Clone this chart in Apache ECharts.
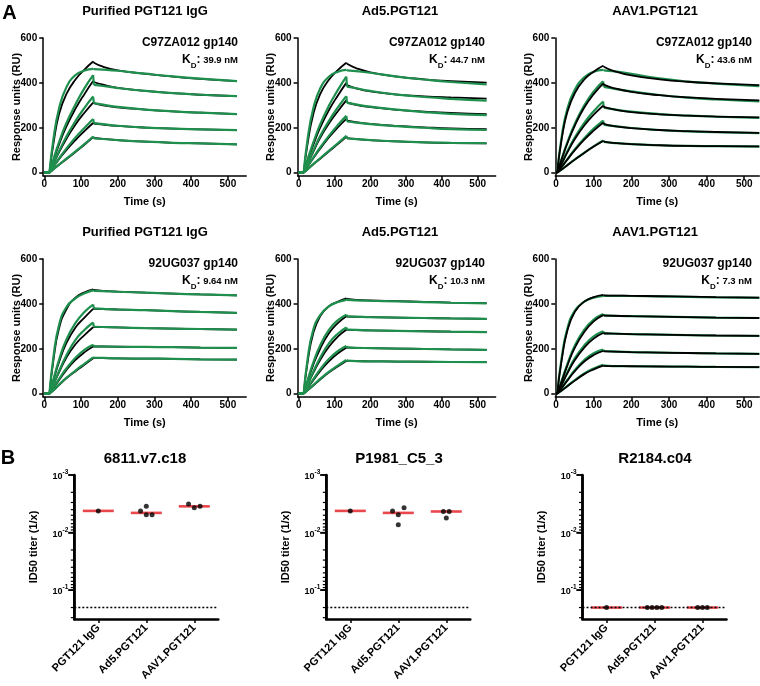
<!DOCTYPE html>
<html><head><meta charset="utf-8">
<script src="https://cdn.jsdelivr.net/npm/echarts@6/dist/echarts.min.js"></script>
<style>html,body{margin:0;padding:0;background:#fff}
#wrap{position:relative;width:760px;height:686px}
.layer{position:absolute;left:0;top:0;width:760px;height:686px}</style>
</head><body><div id="wrap"><div id="ca" class="layer"></div><div id="cb" class="layer"></div></div>
<script>
const FONT = '"Liberation Sans", Arial, Helvetica, sans-serif';

// ---------- Panel A data ----------
const panelTitles = ['Purified PGT121 IgG', 'Ad5.PGT121', 'AAV1.PGT121'];
const antigens = ['C97ZA012 gp140', '92UG037 gp140'];
const kdValues = ['39.9 nM', '44.7 nM', '43.6 nM', '9.64 nM', '10.3 nM', '7.3 nM'];
const timeTicks = [0, 100, 200, 300, 400, 500];
const ruTicks = [0, 200, 400, 600];
const timeA = [0, 14, 25, 40, 60, 85, 110, 133, 135, 160, 200, 275, 350, 425, 525];
const timeB = [0, 3, 15, 30, 50, 75, 100, 125, 127, 150, 200, 275, 350, 425, 540];

const a1Black = [
  [0,0,130,260,350,415,460,495,490,472,456,440,428,418,408],
  [0,0,55,125,205,285,352,408,404,392,378,364,354,347,341],
  [0,0,40,90,150,215,268,312,310,300,291,281,273,267,261],
  [0,0,25,60,100,145,186,221,219,214,208,201,196,193,189],
  [0,0,15,35,60,92,125,158,155,150,145,138,133,130,126]];
const a1Green = [
  [0,0,150,285,380,435,455,462,461,459,454,441,429,419,408],
  [0,0,60,135,220,305,378,435,391,386,377,364,354,347,341],
  [0,0,42,95,160,230,290,339,310,303,293,281,273,267,261],
  [0,0,27,63,107,157,200,239,221,216,209,201,196,193,189],
  [0,0,15,36,62,95,128,161,153,150,145,138,133,130,126]];
const a2Black = [
  [0,0,130,255,350,415,458,490,485,466,447,428,416,408,401],
  [0,0,55,120,200,280,345,400,390,376,362,348,340,335,330],
  [0,0,40,90,155,220,275,322,313,302,292,280,272,266,261],
  [0,0,27,63,107,158,203,240,232,225,217,208,202,197,194],
  [0,0,15,36,62,95,128,160,154,150,145,139,135,132,130]];
const a2Green = [
  [0,0,150,280,375,428,450,458,456,452,445,428,415,404,393],
  [0,0,60,130,215,300,370,428,383,376,364,348,337,329,321],
  [0,0,42,95,163,232,292,341,311,304,294,281,270,262,256],
  [0,0,28,65,112,165,213,253,228,223,216,207,200,194,190],
  [0,0,15,37,64,98,132,164,152,149,145,139,135,133,131]];
const a3Black = [
  [0,0,150,270,355,415,450,476,472,455,433,416,405,398,390],
  [0,0,60,130,210,290,350,397,392,378,360,345,335,329,322],
  [0,0,40,90,150,210,258,298,293,283,270,260,254,250,246],
  [0,0,25,58,100,147,187,222,217,208,198,190,185,181,177],
  [0,0,14,33,58,88,116,141,138,133,127,122,119,118,117]];
const a3Green = [
  [0,0,160,285,370,425,450,458,456,452,440,420,406,397,385],
  [0,0,62,135,218,300,362,407,382,375,362,346,334,326,318],
  [0,0,42,95,157,222,274,317,290,283,272,261,254,249,244],
  [0,0,26,60,104,153,196,232,214,208,199,190,184,180,176],
  [0,0,14,34,59,89,117,143,137,133,127,122,119,118,116]];
const a4Black = [
  [0,0,150,290,375,428,452,465,462,458,455,450,446,442,438],
  [0,0,60,140,225,295,340,378,378,377,375,372,368,364,360],
  [0,0,40,95,160,220,262,296,296,296,295,292,290,288,285],
  [0,0,25,60,105,150,185,210,210,210,209,208,207,205,204],
  [0,0,15,38,68,100,130,158,159,158,157,156,155,153,152]];
const a4Green = [
  [0,0,165,305,385,425,447,460,458,457,454,450,446,442,438],
  [0,0,65,150,240,315,365,397,380,378,375,372,368,364,360],
  [0,0,42,100,170,240,285,317,298,297,295,292,290,288,285],
  [0,0,27,65,112,160,196,218,211,210,209,208,207,205,204],
  [0,0,15,40,70,103,134,162,160,159,157,156,155,153,152]];
const a5Black = [
  [0,0,140,265,345,390,410,425,422,418,415,412,409,406,403],
  [0,0,55,125,200,270,315,345,343,342,341,339,337,335,333],
  [0,0,40,90,150,210,255,285,284,283,282,280,278,276,274],
  [0,0,25,58,100,145,180,205,205,204,203,201,199,197,195],
  [0,0,15,35,63,95,122,146,146,145,144,143,142,141,140]];
const a5Green = [
  [0,0,155,280,350,390,408,418,418,416,414,411,408,405,402],
  [0,0,60,135,215,285,328,352,344,343,341,339,337,335,333],
  [0,0,42,95,160,225,268,295,285,284,282,280,278,276,274],
  [0,0,27,62,108,155,190,212,206,204,203,201,199,197,195],
  [0,0,15,37,66,98,126,150,147,145,144,143,142,141,140]];
const a6Black = [
  [0,0,150,280,365,410,430,440,438,437,436,434,432,430,428],
  [0,0,55,125,205,275,322,350,348,347,345,343,341,339,337],
  [0,0,40,90,150,205,245,270,268,267,265,263,261,259,257],
  [0,0,25,58,100,143,172,190,188,187,185,183,181,179,177],
  [0,0,14,33,58,87,108,125,124,123,122,121,120,119,118]];
const a6Green = [
  [0,0,160,290,370,410,428,436,436,436,435,433,431,429,427],
  [0,0,58,132,215,285,330,355,349,347,345,343,341,339,337],
  [0,0,42,95,158,215,255,278,270,268,265,263,261,259,257],
  [0,0,26,61,105,150,180,196,190,188,185,183,181,179,177],
  [0,0,15,35,60,90,112,128,125,123,122,121,120,119,118]];

// ---------- Panel B data ----------
const bViruses = ['6811.v7.c18', 'P1981_C5_3', 'R2184.c04'];
const bGroups = ['PGT121 IgG', 'Ad5.PGT121', 'AAV1.PGT121'];
const b1Values = [[0.0042], [0.0042, 0.0035, 0.0049, 0.0049], [0.0032, 0.0037, 0.0035]];
const b1Medians = [0.0042, 0.00455, 0.0035];
const b2Values = [[0.0042], [0.0042, 0.0049, 0.0037, 0.0073], [0.0043, 0.0056, 0.0043]];
const b2Medians = [0.0042, 0.00455, 0.0043];
const b3Values = [[0.2], [0.2, 0.2, 0.2, 0.2], [0.2, 0.2, 0.2]];
const b3Medians = [0.2, 0.2, 0.2];
const detectionLimit = 0.195;
const yDecades = [-3, -2, -1];

// ---------- layout / styles ----------
const b1Jitter = [[0], [-0.12, 0, 0, 0.12], [-0.12, 0, 0.12]];
const b2Jitter = [[0], [-0.12, 0, 0.12, 0], [-0.06, 0, 0.06]];
const b3Jitter = [[0], [-0.15, -0.05, 0.05, 0.15], [-0.1, 0, 0.1]];
const GREEN = '#1f8f4e';
const RED = '#e3191f';

const aBlack = [a1Black, a2Black, a3Black, a4Black, a5Black, a6Black];
const aGreen = [a1Green, a2Green, a3Green, a4Green, a5Green, a6Green];
const colA = [
  {left: 43.2, width: 203, xmin: -3, xmax: 550, tx: 145, rx: 238},
  {left: 297.6, width: 198, xmin: -3, xmax: 550, tx: 400, rx: 485},
  {left: 555.3, width: 204, xmin: -2, xmax: 540, tx: 655, rx: 752}];
const rowTopA = [38, 259];
const titleYA = [11, 232];
const colB = [{left: 74.3, tx: 145}, {left: 326.3, tx: 399}, {left: 582.5, tx: 655}];

const boldTxt = (size) => ({fontFamily: FONT, fontWeight: 'bold', fontSize: size, color: '#000'});
const blackLine = (w) => ({color: '#000', width: w});

// ===== Chart A: binding sensorgrams =====
const gA = [], xA = [], yA = [], sA = [], grA = [];
function curveSeries(p, pts, color, width, z) {
  const base = {type: 'line', xAxisIndex: p, yAxisIndex: p, showSymbol: false, symbol: 'none', z: z,
    lineStyle: {color: color, width: width}, silent: true};
  sA.push(Object.assign({}, base, {smooth: false, data: pts.slice(0, 2)}));
  sA.push(Object.assign({}, base, {smooth: 0.5, data: pts.slice(1, 8)}));
  sA.push(Object.assign({}, base, {smooth: false, data: pts.slice(7, 9)}));
  sA.push(Object.assign({}, base, {smooth: 0.5, data: pts.slice(8)}));
}
for (let p = 0; p < 6; p++) {
  const c = colA[p % 3], r = Math.floor(p / 3), top = rowTopA[r];
  gA.push({left: c.left, top: top, width: c.width, height: 138, containLabel: false});
  xA.push({
    gridIndex: p, type: 'value', min: c.xmin, max: c.xmax,
    name: 'Time (s)', nameLocation: 'middle', nameGap: 20, nameMoveOverlap: false, nameTextStyle: boldTxt(11),
    axisLine: {onZero: false, lineStyle: blackLine(1.5)},
    axisTick: {customValues: timeTicks, length: 4, lineStyle: blackLine(1.5)},
    axisLabel: {customValues: timeTicks, margin: 3, ...boldTxt(10)},
    splitLine: {show: false}
  });
  yA.push({
    gridIndex: p, type: 'value', min: -15, max: 600,
    name: 'Response units (RU)', nameLocation: 'middle', nameGap: 21, nameMoveOverlap: false, nameTextStyle: boldTxt(11),
    axisLine: {onZero: false, lineStyle: blackLine(1.5)},
    axisTick: {customValues: ruTicks, length: 4, lineStyle: blackLine(1.5)},
    axisLabel: {customValues: ruTicks, margin: 6, ...boldTxt(10)},
    splitLine: {show: false}
  });
  const times = (p % 3 === 2) ? timeB : timeA;
  const blackTop = (p % 3 === 2);
  for (let i = 0; i < 5; i++) {
    curveSeries(p, times.map((t, j) => [t, aBlack[p][i][j]]), '#000', 1.8, blackTop ? 4 : 2);
    curveSeries(p, times.map((t, j) => [t, aGreen[p][i][j]]), GREEN, 2.2, blackTop ? 2 : 4);
  }
  grA.push({type: 'text', x: c.tx, y: titleYA[r], style: {text: panelTitles[p % 3], fontFamily: FONT, fontWeight: 'bold', fontSize: 13, fill: '#000', align: 'center', verticalAlign: 'middle'}});
  grA.push({type: 'text', x: c.rx, y: top + 5, style: {text: antigens[r], fontFamily: FONT, fontWeight: 'bold', fontSize: 12, fill: '#000', align: 'right', verticalAlign: 'middle'}});
  grA.push({type: 'text', x: c.rx, y: top + 23, style: {
    text: '{k|K}{d|D}{k|:}{n| ' + kdValues[p] + '}',
    align: 'right', verticalAlign: 'middle', fill: '#000',
    rich: {
      k: {fontFamily: FONT, fontWeight: 'bold', fontSize: 12, lineHeight: 14, verticalAlign: 'top', fill: '#000'},
      d: {fontFamily: FONT, fontWeight: 'bold', fontSize: 8, lineHeight: 8, padding: [8, 0, 0, 0], verticalAlign: 'top', fill: '#000'},
      n: {fontFamily: FONT, fontWeight: 'bold', fontSize: 9.5, lineHeight: 14, padding: [1, 0, 0, 0], verticalAlign: 'top', fill: '#000'}
    }
  }});
}
grA.push({type: 'text', x: 9.5, y: 13.5, style: {text: 'A', fontFamily: FONT, fontWeight: 'bold', fontSize: 20, fill: '#000', align: 'center', verticalAlign: 'middle'}});
grA.push({type: 'text', x: 8, y: 458, style: {text: 'B', fontFamily: FONT, fontWeight: 'bold', fontSize: 20, fill: '#000', align: 'center', verticalAlign: 'middle'}});
bViruses.forEach((name, b) => grA.push({type: 'text', x: colB[b].tx, y: 459, style: {text: name, fontFamily: FONT, fontWeight: 'bold', fontSize: 15, fill: '#000', align: 'center', verticalAlign: 'middle'}}));

echarts.init(document.getElementById('ca')).setOption({
  animation: false, backgroundColor: '#fff', textStyle: {fontFamily: FONT},
  grid: gA, xAxis: xA, yAxis: yA, series: sA, graphic: grA
});

// ===== Chart B: neutralization titers =====
const minorTicks = [];
yDecades.forEach(d => { for (let k = 2; k <= 9; k++) { const v = d + Math.log10(k); if (v <= -0.5) minorTicks.push(v); } });
const bValues = [b1Values, b2Values, b3Values];
const bMedians = [b1Medians, b2Medians, b3Medians];
const bJitter = [b1Jitter, b2Jitter, b3Jitter];
const gB = [], xB = [], yB = [], sB = [];
for (let b = 0; b < 3; b++) {
  const c = colB[b];
  gB.push({left: c.left, top: 475, width: 144, height: 144});
  xB.push({
    gridIndex: b, type: 'value', min: -0.5, max: 2.5,
    axisLine: {onZero: false, lineStyle: blackLine(2.5)},
    axisTick: {customValues: [0, 1, 2], length: 4, lineStyle: blackLine(1.5)},
    axisLabel: {customValues: [0, 1, 2], rotate: 45, margin: 7, formatter: v => bGroups[Math.round(v)], ...boldTxt(11)},
    splitLine: {show: false}
  });
  yB.push({
    gridIndex: b, type: 'value', min: -3, max: -0.5, inverse: true,
    name: 'ID50 titer (1/x)', nameLocation: 'middle', nameGap: 35, nameTextStyle: boldTxt(11),
    axisLine: {show: true, onZero: false, lineStyle: blackLine(2.5)},
    axisTick: {show: true, customValues: yDecades, length: 6, lineStyle: blackLine(1.5)},
    axisLabel: {customValues: yDecades, margin: 6, formatter: v => '{n|10}{e|' + Math.round(v) + '}',
      rich: {
        n: {fontFamily: FONT, fontWeight: 'bold', fontSize: 9, lineHeight: 12, verticalAlign: 'bottom', color: '#000'},
        e: {fontFamily: FONT, fontWeight: 'bold', fontSize: 6.5, lineHeight: 7, verticalAlign: 'top', color: '#000'}
      }},
    splitLine: {show: false}
  });
  const pts = [];
  bValues[b].forEach((grp, gIdx) => grp.forEach((v, k) => pts.push([gIdx + bJitter[b][gIdx][k], Math.log10(v)])));
  sB.push({
    type: 'scatter', xAxisIndex: b, yAxisIndex: b, symbol: 'rect', symbolSize: [31, 2.6], z: 3,
    itemStyle: {color: RED}, silent: true,
    data: bMedians[b].map((m, gIdx) => [gIdx, Math.log10(m)]),
    markLine: {silent: true, symbol: 'none', label: {show: false},
      lineStyle: {color: '#000', type: [2, 2], width: 1.3},
      data: [{yAxis: Math.log10(detectionLimit)}]}
  });
  sB.push({
    type: 'scatter', xAxisIndex: b, yAxisIndex: b, symbol: 'circle', symbolSize: 5, z: 4,
    itemStyle: {color: '#000'}, silent: true, data: pts
  });
}
const chartB = echarts.init(document.getElementById('cb'));
chartB.setOption({
  animation: false, backgroundColor: 'transparent', textStyle: {fontFamily: FONT},
  grid: gB, xAxis: xB, yAxis: yB, series: sB
});
// left axis line and log ticks, positioned through the chart's own scales
const axisEls = [];
for (let b = 0; b < 3; b++) {
  const px = v => chartB.convertToPixel({gridIndex: b}, [-0.5, v]);
  const top = px(-3), bot = px(-0.5);
  axisEls.push({type: 'line', z: 100, silent: true, shape: {x1: top[0], y1: top[1], x2: bot[0], y2: bot[1] + 1.25}, style: {stroke: '#000', lineWidth: 2.5}});
  yDecades.forEach(d => { const p = px(d); axisEls.push({type: 'line', z: 100, silent: true, shape: {x1: p[0] - 6, y1: p[1], x2: p[0], y2: p[1]}, style: {stroke: '#000', lineWidth: 1.5}}); });
  minorTicks.forEach(v => { const p = px(v); axisEls.push({type: 'line', z: 100, silent: true, shape: {x1: p[0] - 3.5, y1: p[1], x2: p[0], y2: p[1]}, style: {stroke: '#000', lineWidth: 1.2}}); });
}
chartB.setOption({graphic: axisEls});
</script></body></html>
